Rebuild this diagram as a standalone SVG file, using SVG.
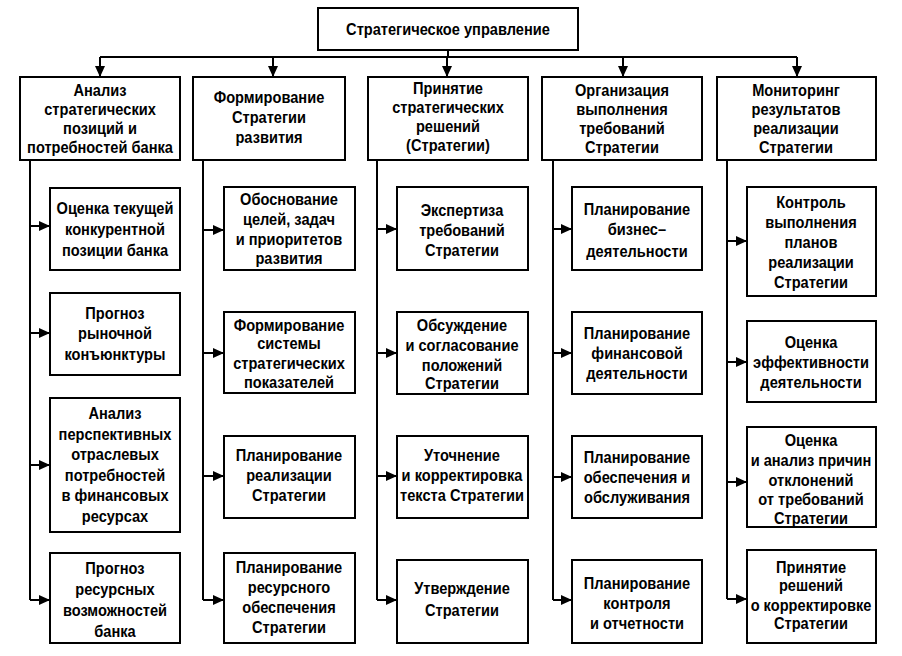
<svg xmlns="http://www.w3.org/2000/svg" width="902" height="656" viewBox="0 0 902 656">
<style>
rect{fill:#fff;stroke:#000;stroke-width:2}
text{font-family:"Liberation Sans",Arial,sans-serif;font-size:17px;font-weight:bold;text-anchor:middle;fill:#000}
.c path{fill:none;stroke:#000;stroke-width:2}
.c .ar{marker-end:url(#a)}
</style>
<defs>
<marker id="a" markerUnits="userSpaceOnUse" markerWidth="12" markerHeight="10" refX="11" refY="5" orient="auto"><path d="M0,0 L11,5 L0,10 Z" fill="#000"/></marker>
</defs>
<rect width="902" height="656" style="fill:#fff;stroke:none"/>
<g class="c">
<path d="M448,50 V57 M100,57 H797"/>
<path class="ar" d="M100,57 V77"/><path class="ar" d="M273,57 V77"/><path class="ar" d="M447,57 V77"/><path class="ar" d="M623,57 V77"/><path class="ar" d="M797,57 V77"/>
<path d="M30,160 V600 M203,160 V600 M377,160 V600 M553,160 V600 M727,160 V599"/>
<path class="ar" d="M30,226 H50"/><path class="ar" d="M30,333 H50"/><path class="ar" d="M30,465 H50"/><path class="ar" d="M30,600 H50"/>
<path class="ar" d="M203,230 H224"/><path class="ar" d="M203,353 H224"/><path class="ar" d="M203,476 H224"/><path class="ar" d="M203,600 H224"/>
<path class="ar" d="M377,229 H397"/><path class="ar" d="M377,353 H397"/><path class="ar" d="M377,476 H397"/><path class="ar" d="M377,600 H397"/>
<path class="ar" d="M553,229 H572"/><path class="ar" d="M553,353 H572"/><path class="ar" d="M553,477 H572"/><path class="ar" d="M553,600 H572"/>
<path class="ar" d="M727,241 H747"/><path class="ar" d="M727,362 H747"/><path class="ar" d="M727,482 H747"/><path class="ar" d="M727,599 H747"/>
</g>
<g id="root"><rect x="318" y="8" width="260" height="42"/><text transform="matrix(0.86 0 0 1 62.72 0)" x="448" y="35">Стратегическое управление</text></g>
<g id="n1"><rect x="20" y="77" width="160" height="83"/><text transform="matrix(0.86 0 0 1 14 0)"><tspan x="100" y="96">Анализ</tspan><tspan x="100" y="115">стратегических</tspan><tspan x="100" y="134">позиций и</tspan><tspan x="100" y="153">потребностей банка</tspan></text></g>
<g id="n2"><rect x="193" y="77" width="152" height="83"/><text transform="matrix(0.86 0 0 1 37.66 0)"><tspan x="269" y="103">Формирование</tspan><tspan x="269" y="123">Стратегии</tspan><tspan x="269" y="143">развития</tspan></text></g>
<g id="n3"><rect x="368" y="77" width="160" height="83"/><text transform="matrix(0.86 0 0 1 62.72 0)"><tspan x="448" y="94">Принятие</tspan><tspan x="448" y="113">стратегических</tspan><tspan x="448" y="132">решений</tspan><tspan x="448" y="151">(Стратегии)</tspan></text></g>
<g id="n4"><rect x="542" y="77" width="160" height="83"/><text transform="matrix(0.86 0 0 1 87.08 0)"><tspan x="622" y="96">Организация</tspan><tspan x="622" y="115">выполнения</tspan><tspan x="622" y="134">требований</tspan><tspan x="622" y="153">Стратегии</tspan></text></g>
<g id="n5"><rect x="717" y="77" width="159" height="83"/><text transform="matrix(0.86 0 0 1 111.44 0)"><tspan x="796" y="96">Мониторинг</tspan><tspan x="796" y="115">результатов</tspan><tspan x="796" y="134">реализации</tspan><tspan x="796" y="153">Стратегии</tspan></text></g>

<g id="n1a"><rect x="50" y="188" width="130" height="82"/><text transform="matrix(0.86 0 0 1 16.1 0)"><tspan x="115" y="214">Оценка текущей</tspan><tspan x="115" y="235">конкурентной</tspan><tspan x="115" y="256">позиции банка</tspan></text></g>
<g id="n1b"><rect x="50" y="293" width="130" height="82"/><text transform="matrix(0.86 0 0 1 16.1 0)"><tspan x="115" y="319">Прогноз</tspan><tspan x="115" y="339">рыночной</tspan><tspan x="115" y="360">конъюнктуры</tspan></text></g>
<g id="n1c"><rect x="50" y="398" width="130" height="134"/><text transform="matrix(0.86 0 0 1 16.1 0)"><tspan x="115" y="419">Анализ</tspan><tspan x="115" y="440">перспективных</tspan><tspan x="115" y="460">отраслевых</tspan><tspan x="115" y="481">потребностей</tspan><tspan x="115" y="501">в финансовых</tspan><tspan x="115" y="522">ресурсах</tspan></text></g>
<g id="n1d"><rect x="50" y="553" width="130" height="90"/><text transform="matrix(0.86 0 0 1 16.1 0)"><tspan x="115" y="574">Прогноз</tspan><tspan x="115" y="595">ресурсных</tspan><tspan x="115" y="616">возможностей</tspan><tspan x="115" y="637">банка</tspan></text></g>

<g id="n2a"><rect x="224" y="187" width="131" height="83"/><text transform="matrix(0.86 0 0 1 40.46 0)"><tspan x="289" y="205">Обоснование</tspan><tspan x="289" y="225">целей, задач</tspan><tspan x="289" y="245">и приоритетов</tspan><tspan x="289" y="264">развития</tspan></text></g>
<g id="n2b"><rect x="224" y="312" width="131" height="81"/><text transform="matrix(0.86 0 0 1 40.46 0)"><tspan x="289" y="331">Формирование</tspan><tspan x="289" y="349">системы</tspan><tspan x="289" y="369">стратегических</tspan><tspan x="289" y="388">показателей</tspan></text></g>
<g id="n2c"><rect x="224" y="436" width="131" height="82"/><text transform="matrix(0.86 0 0 1 40.46 0)"><tspan x="289" y="461">Планирование</tspan><tspan x="289" y="481">реализации</tspan><tspan x="289" y="501">Стратегии</tspan></text></g>
<g id="n2d"><rect x="224" y="553" width="131" height="90"/><text transform="matrix(0.86 0 0 1 40.46 0)"><tspan x="289" y="573">Планирование</tspan><tspan x="289" y="593">ресурсного</tspan><tspan x="289" y="613">обеспечения</tspan><tspan x="289" y="633">Стратегии</tspan></text></g>

<g id="n3a"><rect x="397" y="187" width="131" height="83"/><text transform="matrix(0.86 0 0 1 64.68 0)"><tspan x="462" y="216">Экспертиза</tspan><tspan x="462" y="236">требований</tspan><tspan x="462" y="256">Стратегии</tspan></text></g>
<g id="n3b"><rect x="397" y="312" width="131" height="82"/><text transform="matrix(0.86 0 0 1 64.68 0)"><tspan x="462" y="331">Обсуждение</tspan><tspan x="462" y="351">и согласование</tspan><tspan x="462" y="371">положений</tspan><tspan x="462" y="389">Стратегии</tspan></text></g>
<g id="n3c"><rect x="397" y="436" width="131" height="82"/><text transform="matrix(0.86 0 0 1 64.68 0)"><tspan x="462" y="461">Уточнение</tspan><tspan x="462" y="481">и корректировка</tspan><tspan x="462" y="501">текста Стратегии</tspan></text></g>
<g id="n3d"><rect x="397" y="560" width="131" height="83"/><text transform="matrix(0.86 0 0 1 64.68 0)"><tspan x="462" y="594">Утверждение</tspan><tspan x="462" y="616">Стратегии</tspan></text></g>

<g id="n4a"><rect x="572" y="187" width="130" height="83"/><text transform="matrix(0.86 0 0 1 89.18 0)"><tspan x="637" y="215">Планирование</tspan><tspan x="637" y="235">бизнес–</tspan><tspan x="637" y="257">деятельности</tspan></text></g>
<g id="n4b"><rect x="572" y="312" width="130" height="82"/><text transform="matrix(0.86 0 0 1 89.18 0)"><tspan x="637" y="339">Планирование</tspan><tspan x="637" y="359">финансовой</tspan><tspan x="637" y="379">деятельности</tspan></text></g>
<g id="n4c"><rect x="572" y="436" width="130" height="82"/><text transform="matrix(0.86 0 0 1 89.18 0)"><tspan x="637" y="463">Планирование</tspan><tspan x="637" y="483">обеспечения и</tspan><tspan x="637" y="503">обслуживания</tspan></text></g>
<g id="n4d"><rect x="572" y="560" width="130" height="83"/><text transform="matrix(0.86 0 0 1 89.18 0)"><tspan x="637" y="589">Планирование</tspan><tspan x="637" y="609">контроля</tspan><tspan x="637" y="629">и отчетности</tspan></text></g>

<g id="n5a"><rect x="747" y="187" width="129" height="109"/><text transform="matrix(0.86 0 0 1 113.54 0)"><tspan x="811" y="208">Контроль</tspan><tspan x="811" y="228">выполнения</tspan><tspan x="811" y="248">планов</tspan><tspan x="811" y="268">реализации</tspan><tspan x="811" y="288">Стратегии</tspan></text></g>
<g id="n5b"><rect x="747" y="321" width="129" height="81"/><text transform="matrix(0.86 0 0 1 113.54 0)"><tspan x="811" y="348">Оценка</tspan><tspan x="811" y="368">эффективности</tspan><tspan x="811" y="388">деятельности</tspan></text></g>
<g id="n5c"><rect x="747" y="427" width="129" height="100"/><text transform="matrix(0.86 0 0 1 113.54 0)"><tspan x="811" y="446">Оценка</tspan><tspan x="811" y="466">и анализ причин</tspan><tspan x="811" y="486">отклонений</tspan><tspan x="811" y="505">от требований</tspan><tspan x="811" y="524">Стратегии</tspan></text></g>
<g id="n5d"><rect x="747" y="550" width="129" height="93"/><text transform="matrix(0.86 0 0 1 113.54 0)"><tspan x="811" y="573">Принятие</tspan><tspan x="811" y="591">решений</tspan><tspan x="811" y="611">о корректировке</tspan><tspan x="811" y="629">Стратегии</tspan></text></g>
</svg>
